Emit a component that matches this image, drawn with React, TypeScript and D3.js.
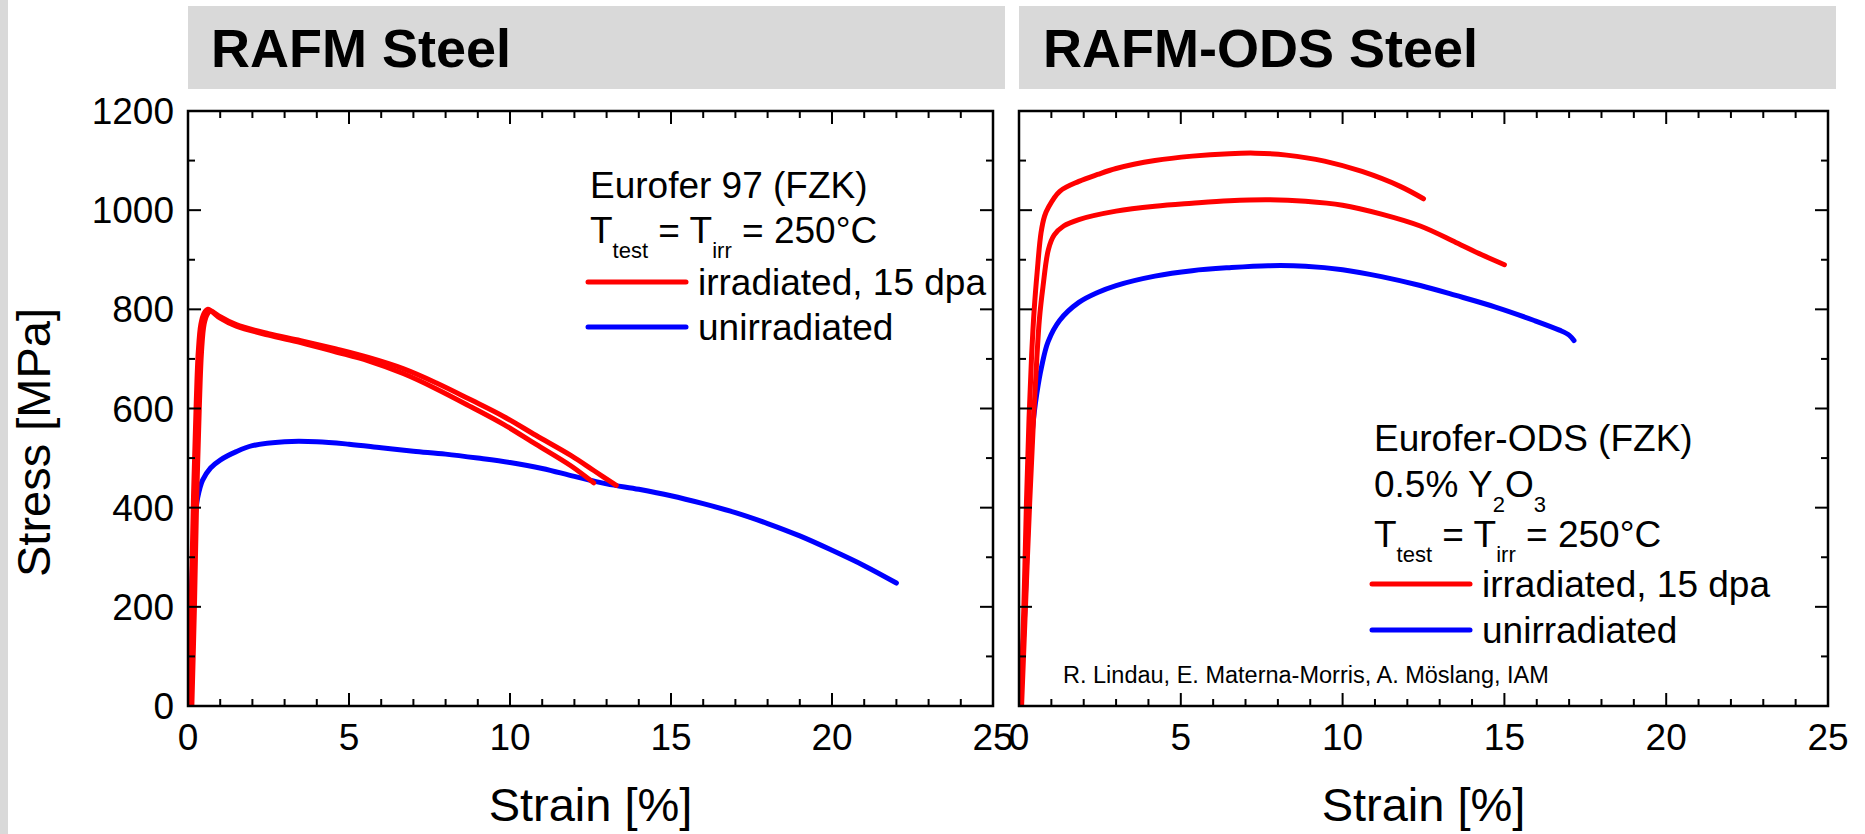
import React from "react";
import * as d3 from "d3";

// ---------- data ----------
const xTickLabels = [0, 5, 10, 15, 20, 25];
const xMinorTicks = d3.range(0, 26, 1);
const yTickLabels = [0, 200, 400, 600, 800, 1000, 1200];
const yMinorTicks = d3.range(0, 1201, 100);

const panelTitles = ["RAFM Steel", "RAFM-ODS Steel"];
const seriesNames = ["irradiated, 15 dpa", "unirradiated"];

// RAFM (Eurofer 97), irradiated, two specimens
const rafmIrrA: [number, number][] = [
  [0.03, 0], [0.1, 200], [0.17, 420], [0.25, 600], [0.32, 715], [0.4, 770], [0.5, 792],
  [0.62, 800], [0.75, 795], [1.0, 782], [1.5, 766], [2.5, 748], [3.5, 733], [4.6, 714],
  [5.6, 696], [6.7, 670], [7.7, 640], [8.8, 603], [9.8, 568], [10.8, 528], [11.9, 484], [12.6, 450],
];
const rafmIrrB: [number, number][] = [
  [0.12, 0], [0.2, 200], [0.27, 420], [0.35, 600], [0.42, 715], [0.5, 770], [0.6, 790],
  [0.7, 797], [0.82, 793], [1.0, 785], [1.5, 769], [2.5, 751], [3.5, 737], [4.6, 720],
  [5.6, 703], [6.7, 680], [7.7, 652], [8.8, 617], [9.8, 584], [10.8, 546], [11.9, 505],
  [12.6, 475], [13.3, 445],
];
const rafmUnirr: [number, number][] = [
  [0, 0], [0.08, 180], [0.15, 300], [0.22, 380], [0.3, 420], [0.45, 455], [0.7, 480],
  [1.0, 496], [1.5, 513], [2, 525], [3, 533], [4, 533], [5, 528], [6, 521], [7, 514],
  [8, 508], [9, 500], [10, 491], [11, 479], [12, 463], [13, 448], [14, 437], [15, 424],
  [16, 408], [17, 390], [18, 368], [19, 343], [20, 314], [21, 283], [22, 248],
];

// RAFM-ODS (Eurofer-ODS), irradiated, two specimens
const odsIrrA: [number, number][] = [
  [0.05, 0], [0.15, 200], [0.23, 410], [0.31, 580], [0.39, 707], [0.47, 800], [0.56, 874],
  [0.68, 954], [0.79, 988], [0.91, 1006], [1.26, 1038], [1.85, 1058], [2.43, 1072],
  [3.0, 1084], [4.2, 1100], [5.35, 1109], [6.5, 1114], [7.3, 1115], [8.27, 1111],
  [9.44, 1099], [10.6, 1078], [11.78, 1048], [12.5, 1023],
];
const odsIrrB: [number, number][] = [
  [0.08, 0], [0.2, 200], [0.33, 410], [0.45, 580], [0.55, 700], [0.63, 780], [0.74, 845],
  [0.91, 921], [1.09, 950], [1.38, 968], [1.85, 981], [3.0, 998], [4.2, 1008], [5.35, 1014],
  [6.5, 1019], [7.7, 1021], [8.85, 1018], [10.0, 1010], [11.2, 992], [12.4, 968],
  [13.5, 935], [14.3, 910], [15.0, 890],
];
const odsUnirr: [number, number][] = [
  [0, 0], [0.15, 150], [0.3, 400], [0.42, 560], [0.55, 630], [0.7, 685], [0.9, 735],
  [1.26, 778], [1.85, 814], [2.43, 834], [3.0, 848], [4.2, 867], [5.35, 878], [6.5, 884],
  [7.7, 888], [8.85, 887], [10, 880], [11.2, 866], [12.4, 848], [13.5, 828], [14.7, 805],
  [15.9, 778], [16.7, 758], [17.0, 748], [17.15, 737],
];

const RED = "#ff0000";
const BLUE = "#0000ff";
const FONT = "'Liberation Sans', Arial, sans-serif";

// ---------- layout ----------
const W = 1865;
const H = 834;
const yTop = 111;
const yBot = 706;
const panels = [
  { left: 188, right: 993, boxRight: 1005, titleX: 211 },
  { left: 1019, right: 1828, boxRight: 1836, titleX: 1043 },
];

const yScale = d3.scaleLinear().domain([0, 1200]).range([yBot, yTop]);

function Panel({ idx, curves, showYLabels }: any) {
  const p = panels[idx];
  const x = d3.scaleLinear().domain([0, 25]).range([p.left, p.right]);
  const line = d3
    .line<[number, number]>()
    .x((d) => x(d[0]))
    .y((d) => yScale(d[1]))
    .curve(d3.curveCatmullRom.alpha(0.5));
  const clipId = `clip${idx}`;
  const major = 13;
  const minor = 7;
  return (
    <g>
      <rect x={p.left} y={6} width={p.boxRight - p.left} height={83} fill="#d9d9d9" />
      <text x={p.titleX} y={67} fontFamily={FONT} fontWeight="bold" fontSize={54} fill="#000">
        {panelTitles[idx]}
      </text>
      <defs>
        <clipPath id={clipId}>
          <rect x={p.left} y={yTop} width={p.right - p.left} height={yBot - yTop} />
        </clipPath>
      </defs>
      <g clipPath={`url(#${clipId})`}>
        {curves.map((c: any, i: number) => (
          <path key={i} d={line(c.data) || ""} fill="none" stroke={c.color} strokeWidth={5}
            strokeLinejoin="round" strokeLinecap="round" />
        ))}
      </g>
      {/* ticks */}
      <g stroke="#000" strokeWidth={2}>
        {xMinorTicks.map((v) => {
          const len = v % 5 === 0 ? major : minor;
          return (
            <g key={"x" + v}>
              <line x1={x(v)} x2={x(v)} y1={yBot} y2={yBot - len} />
              <line x1={x(v)} x2={x(v)} y1={yTop} y2={yTop + len} />
            </g>
          );
        })}
        {yMinorTicks.map((v) => {
          const len = v % 200 === 0 ? major : minor;
          return (
            <g key={"y" + v}>
              <line x1={p.left} x2={p.left + len} y1={yScale(v)} y2={yScale(v)} />
              <line x1={p.right} x2={p.right - len} y1={yScale(v)} y2={yScale(v)} />
            </g>
          );
        })}
      </g>
      <rect x={p.left} y={yTop} width={p.right - p.left} height={yBot - yTop} fill="none"
        stroke="#000" strokeWidth={2.5} />
      {/* tick labels */}
      {xTickLabels.map((v) => (
        <text key={"xl" + v} x={x(v)} y={750} textAnchor="middle" fontFamily={FONT} fontSize={37}>
          {v}
        </text>
      ))}
      {showYLabels &&
        yTickLabels.map((v) => (
          <text key={"yl" + v} x={174} y={yScale(v) + 13} textAnchor="end" fontFamily={FONT} fontSize={37}>
            {v}
          </text>
        ))}
      <text x={(p.left + p.right) / 2} y={821} textAnchor="middle" fontFamily={FONT} fontSize={47}>
        Strain [%]
      </text>
    </g>
  );
}

function Temp({ x, y }: { x: number; y: number }) {
  return (
    <text x={x} y={y} fontFamily={FONT} fontSize={37}>
      T<tspan fontSize={22} dy={15}>test</tspan>
      <tspan dy={-15}> = T</tspan>
      <tspan fontSize={22} dy={15}>irr</tspan>
      <tspan dy={-15}> = 250°C</tspan>
    </text>
  );
}

function LegendRows({ x, y1, y2 }: { x: number; y1: number; y2: number }) {
  return (
    <g>
      <line x1={x} x2={x + 98} y1={y1 - 13} y2={y1 - 13} stroke={RED} strokeWidth={5} strokeLinecap="round" />
      <text x={x + 110} y={y1} fontFamily={FONT} fontSize={37}>{seriesNames[0]}</text>
      <line x1={x} x2={x + 98} y1={y2 - 13} y2={y2 - 13} stroke={BLUE} strokeWidth={5} strokeLinecap="round" />
      <text x={x + 110} y={y2} fontFamily={FONT} fontSize={37}>{seriesNames[1]}</text>
    </g>
  );
}

export default function App() {
  return (
    <svg width={W} height={H} style={{ position: "absolute", left: 0, top: 0, background: "#fff" }}>
      <rect x={0} y={0} width={W} height={H} fill="#fff" />
      <rect x={0} y={0} width={8} height={H} fill="#d9d9d9" />
      <Panel idx={0} showYLabels curves={[
        { data: rafmUnirr, color: BLUE },
        { data: rafmIrrA, color: RED },
        { data: rafmIrrB, color: RED },
      ]} />
      <Panel idx={1} showYLabels={false} curves={[
        { data: odsUnirr, color: BLUE },
        { data: odsIrrB, color: RED },
        { data: odsIrrA, color: RED },
      ]} />
      <text transform={`translate(50, ${(yTop + yBot) / 2 + 34}) rotate(-90)`} textAnchor="middle"
        fontFamily={FONT} fontSize={47}>
        Stress [MPa]
      </text>

      {/* left annotation */}
      <text x={590} y={198} fontFamily={FONT} fontSize={37}>Eurofer 97 (FZK)</text>
      <Temp x={590} y={243} />
      <LegendRows x={588} y1={295} y2={340} />

      {/* right annotation */}
      <text x={1374} y={451} fontFamily={FONT} fontSize={37}>Eurofer-ODS (FZK)</text>
      <text x={1374} y={497} fontFamily={FONT} fontSize={37}>
        0.5% Y<tspan fontSize={22} dy={15}>2</tspan>
        <tspan dy={-15}>O</tspan>
        <tspan fontSize={22} dy={15}>3</tspan>
      </text>
      <Temp x={1374} y={547} />
      <LegendRows x={1372} y1={597} y2={643} />

      <text x={1063} y={683} fontFamily={FONT} fontSize={23.5}>
        R. Lindau, E. Materna-Morris, A. Möslang, IAM
      </text>
    </svg>
  );
}
